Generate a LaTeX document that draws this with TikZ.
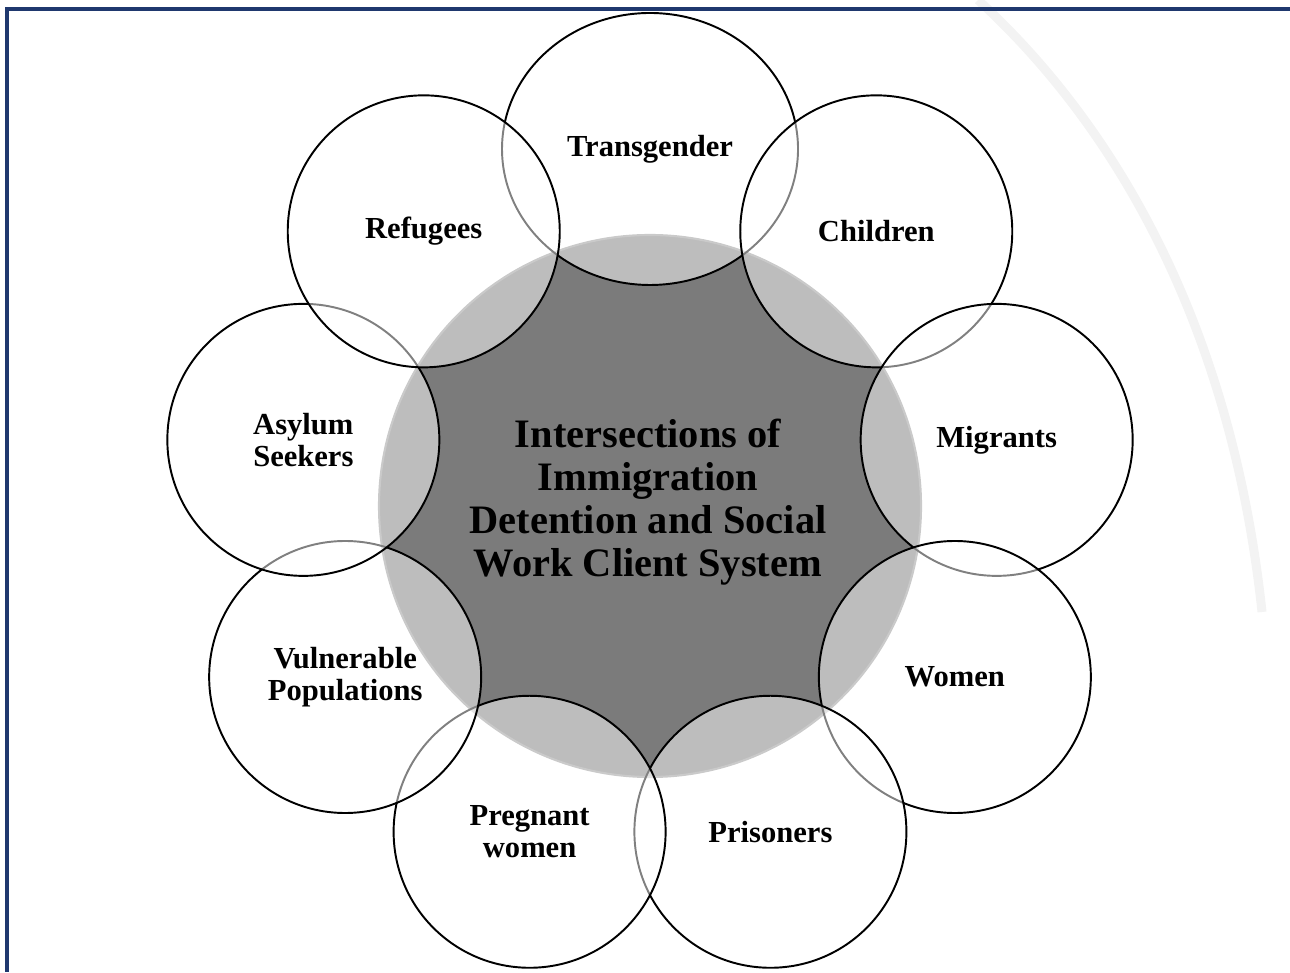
\documentclass[tikz,border=0pt]{standalone}
\usepackage{fontspec}
\setmainfont{Liberation Serif}
\usepackage{tikz}
\usetikzlibrary{shapes.geometric}
\definecolor{frameblue}{RGB}{31,56,110}
\definecolor{coregray}{RGB}{123,123,123}
\definecolor{ringgray}{RGB}{150,150,150}
\definecolor{markgray}{RGB}{243,243,243}

\begin{document}
\begin{tikzpicture}[x=0.1mm, y=0.1mm,
        grp/.style={circle, draw=black, line width=0.55pt, minimum size=27.2mm, inner sep=0pt,
                    fill=white, fill opacity=0.5, text opacity=1, align=center,
                    font=\bfseries\fontsize{8.7}{9.1}\selectfont},
        wide/.style={ellipse, minimum width=29.6mm, minimum height=27.2mm}]

    \useasboundingbox (0,0) rectangle (1290,972);

    % watermark + frame
    \draw[markgray, line width=0.9mm] (978,972) .. controls (1120,842) and (1232,640) .. (1262,360);
    \draw[frameblue, line width=0.9pt] (1290,963) -- (7,963) -- (7,0);

    \begin{scope}[shift={(650,471)}]
        % big circle
        \filldraw[fill=coregray, draw=ringgray, line width=0.6pt] (0,-5) circle[radius=27.1mm];

        % groups, clockwise from the top
        \node[grp, wide] (trans)  at (90:352)   {Transgender};
        \node[grp]       (child)  at (50:352)   {Children};
        \node[grp]       (migr)   at (10:352)   {Migrants};
        \node[grp]       (women)  at (-30:352)  {Women};
        \node[grp]       (prison) at (-70:352)  {Prisoners};
        \node[grp]       (preg)   at (-110:352) {Pregnant\\women};
        \node[grp]       (vuln)   at (-150:352) {Vulnerable\\Populations};
        \node[grp]       (asyl)   at (170:352)  {Asylum\\Seekers};
        \node[grp]       (refug)  at (130:352)  {Refugees};

        % centre text
        \node[align=center, font=\bfseries\fontsize{11.5}{12.2}\selectfont] (core) at (-2,-1)
            {Intersections of\\Immigration\\Detention and Social\\Work Client System};
    \end{scope}

\end{tikzpicture}
\end{document}
